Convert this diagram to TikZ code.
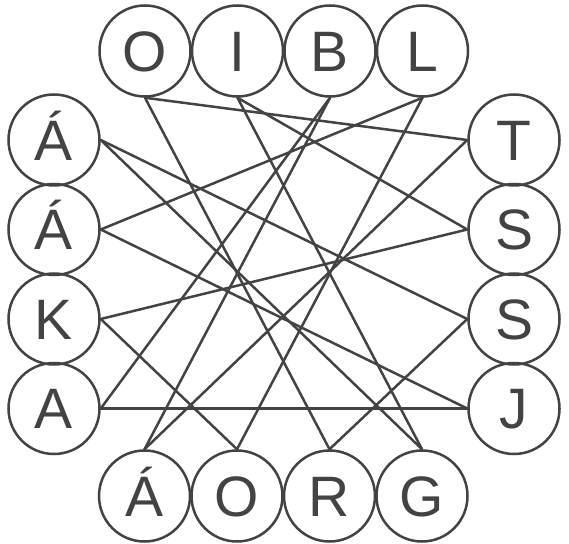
\documentclass[tikz,border=0pt]{standalone}
\usepackage{fontspec}
\setmainfont{Liberation Sans}
\definecolor{ink}{HTML}{434343}
\begin{document}
\begin{tikzpicture}[x=1pt,y=1pt,
  letter/.style={circle,draw=ink,line width=2.5pt,minimum size=91pt,inner sep=0pt,
    text=ink,font=\fontsize{57}{57}\selectfont,text height=40.5pt,text depth=0pt},
  link/.style={draw=ink,line width=2.5pt,line cap=round}]
\useasboundingbox (0,0) rectangle (569,543);
% top row
\node[letter] (t1) at (145,492) {O};
\node[letter] (t2) at (237.5,492) {I};
\node[letter] (t3) at (330,492) {B};
\node[letter] (t4) at (422.5,492) {L};
% left column
\node[letter] (l1) at (54,403) {Á};
\node[letter] (l2) at (54,313.5) {Á};
\node[letter] (l3) at (54,224) {K};
\node[letter] (l4) at (54,134.5) {A};
% right column
\node[letter] (r1) at (514,403) {T};
\node[letter] (r2) at (514,313.5) {S};
\node[letter] (r3) at (514,224) {S};
\node[letter] (r4) at (514,134.5) {J};
% bottom row
\node[letter] (b1) at (144.5,47) {Á};
\node[letter] (b2) at (237,47) {O};
\node[letter] (b3) at (329.5,47) {R};
\node[letter] (b4) at (422,47) {G};
% connectors
\draw[link] (t1.south) -- (r1.west);
\draw[link] (t1.south) -- (b3.north);
\draw[link] (t2.south) -- (r2.west);
\draw[link] (t2.south) -- (b4.north);
\draw[link] (t3.south) -- (l4.east);
\draw[link] (t3.south) -- (b1.north);
\draw[link] (t4.south) -- (l2.east);
\draw[link] (t4.south) -- (b2.north);
\draw[link] (l1.east) -- (r3.west);
\draw[link] (l1.east) -- (b4.north);
\draw[link] (l2.east) -- (r4.west);
\draw[link] (l3.east) -- (b2.north);
\draw[link] (l3.east) -- (r2.west);
\draw[link] (l4.east) -- (r4.west);
\draw[link] (b1.north) -- (r1.west);
\draw[link] (b3.north) -- (r3.west);
\end{tikzpicture}
\end{document}
